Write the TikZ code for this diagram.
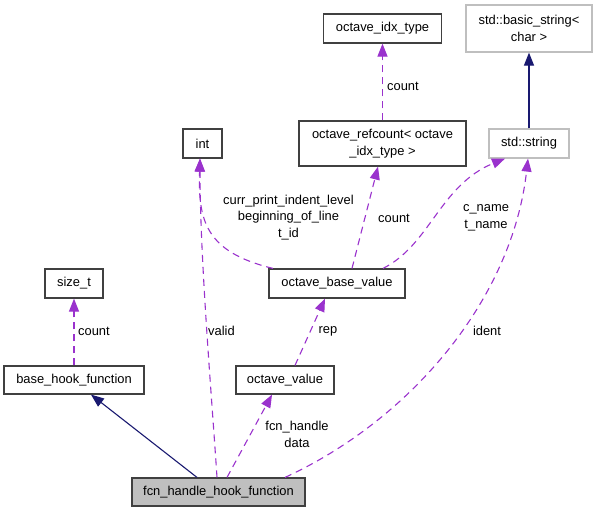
\documentclass[tikz,border=0pt]{standalone}
\usepackage{fontspec}
\setmainfont{Liberation Sans}
\usetikzlibrary{arrows.meta,positioning,calc}
\definecolor{dxpurple}{HTML}{9A32CD}
\definecolor{dxnavy}{HTML}{191970}
\definecolor{dxgray}{HTML}{BFBFBF}
\definecolor{dxline}{HTML}{404040}

\begin{document}
\begin{tikzpicture}[
  x=1pt, y=-1pt,
  font=\fontsize{12.9}{16.5}\selectfont,
  cls/.style={draw=dxline, line width=1.2pt, fill=white, minimum height=29pt,
              inner sep=0pt, align=center},
  ext/.style={cls, draw=dxgray},
  cur/.style={cls, fill=dxgray},
  usage/.style={-{Triangle[length=13pt,width=10pt]}, color=dxpurple, line width=1.1pt,
                dash pattern=on 7pt off 5pt},
  inherit/.style={-{Triangle[length=13pt,width=10pt]}, color=dxnavy, line width=1.1pt},
  lbl/.style={inner sep=0pt, align=center}
]
\useasboundingbox (0,0) rectangle (597,512);

% ── Classes ───────────────────────────────────────────────────
\node[cur, minimum width=173pt, minimum height=28pt] (fcn) at (218.5,492) {fcn\_handle\_hook\_function};
\node[cls, minimum width=140pt, minimum height=28pt] (base) at (74,380) {base\_hook\_function};
\node[cls, minimum width=58pt] (size) at (74,283.5) {size\_t};
\node[cls, minimum width=98pt, minimum height=28pt] (ovalue) at (285,380) {octave\_value};
\node[cls, minimum width=136pt] (obase) at (337,283.5) {octave\_base\_value};
\node[cls, minimum width=39pt] (int) at (202.5,143.5) {int};
\node[cls, minimum width=167pt, minimum height=45pt] (refc) at (382.5,143.5) {octave\_refcount< octave\\\_idx\_type >};
\node[cls, minimum width=118pt] (idx) at (382.5,28.5) {octave\_idx\_type};

% ── std ───────────────────────────────────────────────────────
\node[ext, minimum width=80pt] (str) at (529,143.5) {std::string};
\node[ext, minimum width=126pt, minimum height=47pt] (bstr) at (529,28.5) {std::basic\_string<\\char >};

% ── Inheritance ───────────────────────────────────────────────
\draw[inherit] ([xshift=-21.5pt]fcn.north) -- ([xshift=17pt]base.south);
\draw[inherit] (str.north) -- (bstr.south);

% ── Usage ─────────────────────────────────────────────────────
\draw[usage] (base.north) -- (size.south);
\draw[usage] ([xshift=-1.5pt]fcn.north) .. controls (212,400) and (200,260) .. ([xshift=-2.5pt]int.south);
\draw[usage] ([xshift=8.5pt]fcn.north) -- ([xshift=-13pt]ovalue.south);
\draw[usage] ([xshift=66.5pt]fcn.north) .. controls (410,420) and (512,300) .. ([xshift=-1pt]str.south);
\draw[usage] ([xshift=10pt]ovalue.north) -- ([xshift=-12pt]obase.south);
\draw[usage] ([xshift=-64pt]obase.north) .. controls (205,252) and (198,220) .. ([xshift=-2.5pt]int.south);
\draw[usage] ([xshift=15pt]obase.north) -- ([xshift=-4.5pt]refc.south);
\draw[usage] ([xshift=46pt]obase.north) .. controls (430,245) and (440,185) .. ([xshift=-24pt]str.south);
\draw[usage] (refc.north) -- (idx.south);

% ── Labels ────────────────────────────────────────────────────
\node[lbl, anchor=west] (lcntsize) at (78,331) {count};
\node[lbl, anchor=west] (lvalid) at (208,331) {valid};
\node[lbl] (lhandle) at (297,434.5) {fcn\_handle\\data};
\node[lbl] (lrep) at (328,331) {rep};
\node[lbl] (lident) at (487,331) {ident};
\node[lbl] (lindent) at (288.5,217.5) {curr\_print\_indent\_level\\beginning\_of\_line\\t\_id};
\node[lbl] (lcntref) at (394,218) {count};
\node[lbl] (lname) at (486,218) {c\_name\\t\_name};
\node[lbl, anchor=west] (lcntidx) at (387,86) {count};
\end{tikzpicture}
\end{document}
